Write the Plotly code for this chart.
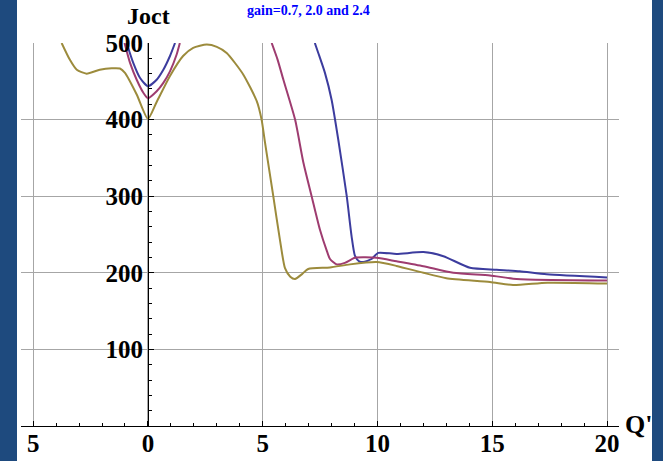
import plotly.graph_objects as go

# ---- data ----
blue_x = [-0.93, -0.64, -0.35, 0.0, 0.38, 0.67, 0.96, 1.18, None,
          7.27, 7.42, 7.71, 8.0, 8.29, 8.66, 8.87, 9.02, 9.2, 9.38, 9.74, 10.03, 10.83, 12.0, 12.87, 14.03, 15.19, 16.2, 17.37, 20.0]
blue_y = [500, 474, 454.6, 443.6, 452, 465, 483, 500, None,
          500, 487, 461, 426, 374, 300, 248, 222, 215, 214, 218, 226, 224.6, 227, 221.7, 206.5, 204, 202, 198, 194]

purple_x = [-1.02, -0.78, -0.49, -0.2, 0.0, 0.38, 0.67, 0.96, 1.25, 1.39, None,
            5.39, 5.65, 5.9, 6.41, 6.77, 7.13, 7.49, 7.8, 7.93, 8.22, 8.58, 9.02, 9.96, 10.83, 12.0, 13.3, 14.9, 16.06, 20.0]
purple_y = [500, 474, 452, 435, 428, 437, 448, 463, 485, 500, None,
            500, 478, 452, 400, 344, 300, 256.5, 228, 218, 211, 213, 219.6, 219.6, 215, 208.6, 200, 196.5, 192, 190]

gold_x = [-3.76, -3.4, -3.1, -2.67, -2.1, -1.58, -1.22, -1.0, -0.49, 0.0, 0.38, 0.96, 1.53, 1.97, 2.56, 3.0, 3.43,
          4.15, 4.74, 4.95, 5.1, 5.46, 5.75, 5.97, 6.2, 6.41, 6.7, 6.98, 7.93, 8.8, 9.96, 10.83, 12.0, 13.0, 14.9, 15.9, 17.4, 20.0]
gold_y = [500, 478, 465, 460, 465, 467, 466.7, 461, 432.8, 401, 423, 457, 483, 493.7, 498, 495, 487,
          459, 424, 400, 370, 300, 243, 206, 195, 192, 198, 205, 207, 211, 214, 209, 200, 193, 188, 184, 187, 186]

x_tickvals = [-5, 0, 5, 10, 15, 20]
x_ticktext = ["5", "0", "5", "10", "15", "20"]
y_tickvals = [100, 200, 300, 400, 500]
y_ticktext = ["100", "200", "300", "400", "500"]

title_text = "gain=0.7, 2.0 and 2.4"
y_label = "Joct"
x_label = "Q'"

# ---- figure ----
W, H = 663, 461
L, R, T, B = 21, 44, 43, 35
pw, ph = W - L - R, H - T - B

def px_x(p):
    return (p - L) / pw

def px_y(p):
    return (H - B - p) / ph

serif = "Liberation Serif"
fig = go.Figure()
for xs, ys, col in [(blue_x, blue_y, "#3c3c9e"),
                    (purple_x, purple_y, "#9e3c70"),
                    (gold_x, gold_y, "#9c8b3c")]:
    fig.add_trace(go.Scatter(x=xs, y=ys, mode="lines",
                             line=dict(color=col, width=2, shape="spline", smoothing=0.6),
                             connectgaps=False, showlegend=False, hoverinfo="skip"))

tickfont = dict(family=serif, size=25, color="black", weight="bold")
fig.update_layout(
    width=W, height=H,
    margin=dict(l=L, r=R, t=T, b=B, autoexpand=False),
    paper_bgcolor="white", plot_bgcolor="white",
    xaxis=dict(range=[-5.53, 20.52], tickvals=x_tickvals, ticktext=x_ticktext,
               automargin=False, ticklabelstandoff=-5,
               showgrid=True, gridcolor="#a6a6a6", gridwidth=1,
               showline=True, linecolor="black", linewidth=1, zeroline=False,
               ticks="inside", ticklen=5, tickcolor="black", tickfont=tickfont,
               minor=dict(ticks="inside", dtick=1, ticklen=3, tickcolor="black", showgrid=False)),
    yaxis=dict(range=[0, 500], tickvals=y_tickvals, ticktext=y_ticktext,
               automargin=False,
               anchor="free", position=(0 - (-5.53)) / (20.52 - (-5.53)),
               showgrid=True, gridcolor="#a6a6a6", gridwidth=1,
               showline=True, linecolor="black", linewidth=1, zeroline=False,
               ticks="inside", ticklen=5, tickcolor="black", tickfont=tickfont,
               minor=dict(ticks="inside", dtick=20, ticklen=3, tickcolor="black", showgrid=False)),
)

# blue frame edges
border = "#1e4a7e"
fig.add_shape(type="rect", xref="paper", yref="paper",
              x0=px_x(0), x1=px_x(17), y0=px_y(H), y1=px_y(0),
              fillcolor=border, line=dict(width=0), layer="above")
fig.add_shape(type="rect", xref="paper", yref="paper",
              x0=px_x(652), x1=px_x(W), y0=px_y(H), y1=px_y(0),
              fillcolor=border, line=dict(width=0), layer="above")

fig.add_annotation(text=title_text, xref="paper", yref="paper",
                   x=px_x(308), y=px_y(1), xanchor="center", yanchor="top",
                   showarrow=False, font=dict(family=serif, size=14, color="#0000ff", weight="bold"))
fig.add_annotation(text=y_label, xref="paper", yref="paper",
                   x=px_x(148), y=px_y(30), xanchor="center", yanchor="bottom",
                   showarrow=False, borderpad=0,
                   font=dict(family=serif, size=24, color="black", weight="bold"))
fig.add_annotation(text=x_label, xref="paper", yref="paper",
                   x=px_x(638), y=px_y(424), xanchor="center", yanchor="middle",
                   showarrow=False, font=dict(family=serif, size=26, color="black", weight="bold"))

fig.write_html("out.html")
